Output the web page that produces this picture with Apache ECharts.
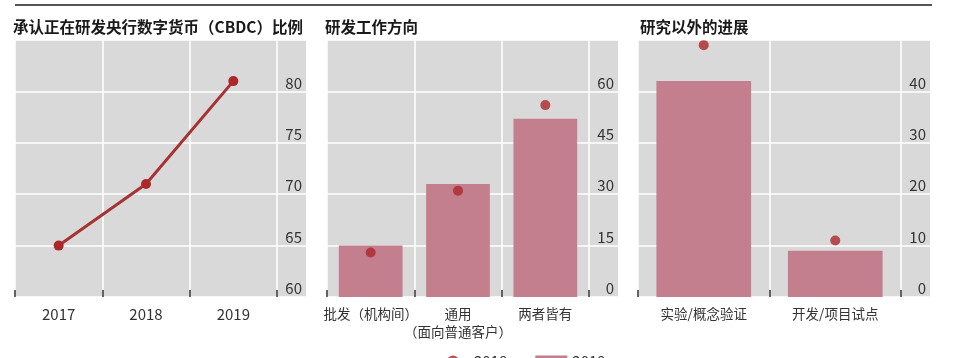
<!DOCTYPE html>
<html>
<head>
<meta charset="utf-8">
<script src="https://cdn.jsdelivr.net/npm/echarts@6/dist/echarts.min.js"></script>
<style>
html,body{margin:0;padding:0;background:#fff;}
#chart{width:960px;height:358px;}
</style>
</head>
<body>
<div id="chart"></div>
<script>
// ---- Data ----
const titles = ['承认正在研发央行数字货币（CBDC）比例', '研发工作方向', '研究以外的进展'];
const years = ['2017', '2018', '2019'];
const shareValues = [65, 71, 81];
const directionCats = ['批发（机构间）', '通用\n（面向普通客户）', '两者皆有'];
const direction2019 = [15, 33, 52];
const direction2018 = [13, 31, 56];
const progressCats = ['实验/概念验证', '开发/项目试点'];
const progress2019 = [42, 9];
const progress2018 = [49, 11];
const legendNames = ['2018', '2019'];
const yRanges = [[60, 85, 5], [0, 75, 15], [0, 50, 10]];

// ---- Styles ----
const FONT = '"Noto Sans CJK SC", "Noto Sans", sans-serif';
const GRAY = '#d9d9d9';
const BAR = '#c47f8f';
const DOT = '#ad2729';
const LINE = '#a63234';
const TXT = '#333';

const panels = [
  {bgLeft: 15, bgW: 291, catW: 262, titleLeft: 13},
  {bgLeft: 327, bgW: 291, catW: 262, titleLeft: 325},
  {bgLeft: 638, bgW: 292, catW: 263, titleLeft: 640}
];
const TOP = 40, H = 257;
const catData = [years, directionCats, progressCats];

const grid = [], xAxis = [], yAxis = [], title = [];
panels.forEach((p, i) => {
  grid.push({left: p.bgLeft, top: TOP, width: p.bgW, height: H, show: true,
             backgroundColor: GRAY, borderWidth: 0});
  grid.push({left: p.bgLeft, top: TOP, width: p.catW, height: H});
  const [mn, mx, iv] = yRanges[i];
  xAxis.push({type: 'value', gridIndex: 2 * i, show: false, min: 0, max: 1});
  yAxis.push({type: 'value', gridIndex: 2 * i, position: 'right', min: mn, max: mx, interval: iv,
    axisLine: {show: false}, axisTick: {show: false},
    splitLine: {show: true, lineStyle: {color: '#ffffff', width: 1.5}},
    axisLabel: {inside: true, showMaxLabel: false, verticalAlign: 'bottom', margin: 4,
      fontSize: 15, color: TXT, fontFamily: FONT, padding: [0, 0, 1, 0]}
  });
  xAxis.push({type: 'category', gridIndex: 2 * i + 1, data: catData[i], boundaryGap: true,
    axisLine: {show: false},
    axisTick: {show: true, inside: true, length: 7, lineStyle: {color: '#333', width: 1.5}},
    splitLine: {show: true, lineStyle: {color: '#ffffff', width: 1.5}},
    axisLabel: {interval: 0, hideOverlap: false, margin: 8, fontSize: i === 0 ? 15 : 13.5,
      color: TXT, fontFamily: FONT, lineHeight: 18}
  });
  yAxis.push({type: 'value', gridIndex: 2 * i + 1, min: mn, max: mx, interval: iv, show: false,
    splitLine: {show: false}});
  title.push({text: titles[i], left: p.titleLeft, top: 19, padding: 0,
    textStyle: {fontSize: 15.5, fontWeight: 'bold', color: '#1a1a1a', fontFamily: FONT}});
});

const dotStyle = {color: DOT};
const series = [
  {type: 'line', name: '比例', xAxisIndex: 1, yAxisIndex: 1, data: shareValues,
   symbol: 'circle', symbolSize: 10, itemStyle: {color: DOT},
   lineStyle: {color: LINE, width: 3}, z: 5},
  {type: 'bar', name: legendNames[1], xAxisIndex: 3, yAxisIndex: 3, data: direction2019,
   barCategoryGap: '27%', itemStyle: {color: BAR}},
  {type: 'scatter', name: legendNames[0], xAxisIndex: 3, yAxisIndex: 3, data: direction2018,
   symbol: 'circle', symbolSize: 10, itemStyle: dotStyle, z: 5},
  {type: 'bar', name: legendNames[1], xAxisIndex: 5, yAxisIndex: 5, data: progress2019,
   barCategoryGap: '28%', itemStyle: {color: BAR}},
  {type: 'scatter', name: legendNames[0], xAxisIndex: 5, yAxisIndex: 5, data: progress2018,
   symbol: 'circle', symbolSize: 10, itemStyle: dotStyle, z: 5}
];

const option = {
  animation: false,
  backgroundColor: '#ffffff',
  title: title,
  grid: grid,
  xAxis: xAxis,
  yAxis: yAxis,
  legend: {
    show: true, orient: 'horizontal',
    left: 447, top: 354, itemWidth: 32, itemHeight: 12, itemGap: 28, padding: 0,
    textStyle: {fontSize: 15, color: TXT, fontFamily: FONT},
    data: [{name: legendNames[0], icon: 'circle'}, {name: legendNames[1], icon: 'rect'}],
    selectedMode: false
  },
  graphic: [
    {type: 'line', shape: {x1: 15, y1: 5, x2: 932, y2: 5},
     style: {stroke: '#555', lineWidth: 2}, silent: true}
  ],
  series: series
};

const chart = echarts.init(document.getElementById('chart'), null, {renderer: 'canvas'});
chart.setOption(option);
</script>
</body>
</html>
